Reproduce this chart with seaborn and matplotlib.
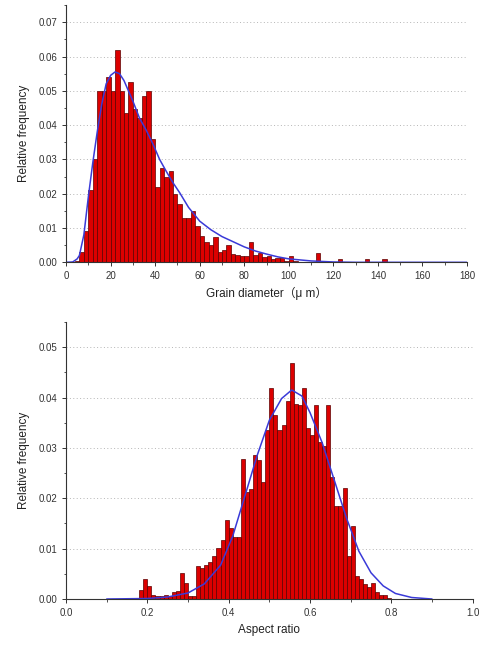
import numpy as np
import matplotlib
matplotlib.use("Agg")
import matplotlib.pyplot as plt
from matplotlib.ticker import MultipleLocator
import seaborn as sns

# grain diameter histogram, 2 um bins (bin start -> relative frequency)
diam_bins = [4, 6, 8, 10, 12, 14, 16, 18, 20, 22, 24, 26, 28, 30, 32, 34, 36, 38,
             40, 42, 44, 46, 48, 50, 52, 54, 56, 58, 60, 62, 64, 66, 68, 70, 72,
             74, 76, 78, 80, 82, 84, 86, 88, 90, 92, 94, 96, 98, 100, 102, 112,
             122, 134, 142]
diam_freq = [0.0003, 0.003, 0.009, 0.021, 0.030, 0.050, 0.050, 0.054, 0.050,
             0.062, 0.050, 0.0435, 0.0526, 0.0448, 0.042, 0.0486, 0.050, 0.036,
             0.022, 0.0275, 0.025, 0.0266, 0.020, 0.017, 0.013, 0.013, 0.015,
             0.0105, 0.0078, 0.006, 0.005, 0.0075, 0.003, 0.0035, 0.005, 0.0025,
             0.002, 0.0017, 0.0017, 0.006, 0.002, 0.0027, 0.0015, 0.0017, 0.001,
             0.0012, 0.0013, 0.0003, 0.0017, 0.0005, 0.0028, 0.001, 0.001, 0.001]
# fitted curve
diam_curve_x = [0, 3, 5, 6, 8, 10, 12, 14, 16, 18, 20, 22, 24, 26, 28, 30, 33, 36,
                39, 42, 45, 48, 51, 55, 60, 65, 70, 75, 80, 85, 90, 95, 100, 110,
                120, 130, 180]
diam_curve_y = [0, 0.0001, 0.001, 0.002, 0.008, 0.019, 0.029, 0.038, 0.046,
                0.052, 0.0545, 0.0555, 0.055, 0.053, 0.050, 0.047, 0.042, 0.0385,
                0.0345, 0.030, 0.0265, 0.0232, 0.0203, 0.016, 0.012, 0.0095,
                0.0075, 0.006, 0.0045, 0.0033, 0.0024, 0.0016, 0.001, 0.0004,
                0.0001, 0, 0]

# aspect ratio histogram, 0.01 bins
ar_bins = [0.18, 0.19, 0.20, 0.21, 0.22, 0.23, 0.24, 0.25, 0.26, 0.27, 0.28, 0.29,
           0.30, 0.31, 0.32, 0.33, 0.34, 0.35, 0.36, 0.37, 0.38, 0.39, 0.40, 0.41,
           0.42, 0.43, 0.44, 0.45, 0.46, 0.47, 0.48, 0.49, 0.50, 0.51, 0.52, 0.53,
           0.54, 0.55, 0.56, 0.57, 0.58, 0.59, 0.60, 0.61, 0.62, 0.63, 0.64, 0.65,
           0.66, 0.67, 0.68, 0.69, 0.70, 0.71, 0.72, 0.73, 0.74, 0.75, 0.76, 0.77,
           0.78, 0.79]
ar_freq = [0.0018, 0.004, 0.0026, 0.0007, 0.0005, 0.0005, 0.0007, 0.0005, 0.0013,
           0.0015, 0.0052, 0.0031, 0.0005, 0.0005, 0.0065, 0.0061, 0.0068, 0.0074,
           0.0085, 0.0101, 0.0117, 0.0157, 0.014, 0.0124, 0.0124, 0.0277, 0.0212,
           0.0219, 0.0286, 0.0276, 0.0233, 0.0335, 0.0418, 0.0365, 0.0335, 0.0345,
           0.0393, 0.0468, 0.0388, 0.0385, 0.0418, 0.0339, 0.0325, 0.0385, 0.0312,
           0.0303, 0.0385, 0.0243, 0.0184, 0.0184, 0.0220, 0.0086, 0.0145, 0.0046,
           0.0039, 0.0029, 0.0024, 0.0031, 0.0013, 0.0007, 0.0007, 0.0003]
ar_curve_x = [0.10, 0.20, 0.25, 0.30, 0.34, 0.38, 0.41, 0.44, 0.47, 0.50, 0.53,
              0.555, 0.58, 0.60, 0.63, 0.66, 0.69, 0.72, 0.75, 0.78, 0.81, 0.85, 0.90]
ar_curve_y = [0.0, 0.0001, 0.0004, 0.0012, 0.003, 0.0067, 0.0125, 0.0205, 0.0285,
              0.0355, 0.0398, 0.0415, 0.0403, 0.037, 0.031, 0.0235, 0.016, 0.0095,
              0.0052, 0.0026, 0.0011, 0.0003, 0.0]

sns.set_style("ticks")
plt.rcParams['font.family'] = ['Liberation Sans', 'Noto Sans CJK JP', 'DejaVu Sans']

BAR = "#dc0000"
EDGE = "#5a0000"
LINE = "#3a3ad8"

fig = plt.figure(figsize=(4.82, 6.48), dpi=100)
ax1 = fig.add_axes([0.137, 0.5952, 0.832, 0.397])
ax2 = fig.add_axes([0.137, 0.0756, 0.8437, 0.4275])


def style(ax):
    sns.despine(ax=ax)
    ax.grid(axis="y", which="major", linestyle=(0, (1, 2.5)), color="#b5b5b5", lw=0.7)
    ax.set_axisbelow(True)
    ax.tick_params(which="major", labelsize=7, length=3, width=0.7, colors="#333333")
    ax.tick_params(which="minor", length=1.8, width=0.6, colors="#333333")
    for s in ("left", "bottom"):
        ax.spines[s].set_color("#333333")
        ax.spines[s].set_linewidth(0.8)


# top panel
sns.histplot(x=np.array(diam_bins) + 1, weights=diam_freq, binwidth=2,
             binrange=(0, 180), stat="count", color=BAR, alpha=1,
             edgecolor=EDGE, linewidth=0.5, ax=ax1)
sns.lineplot(x=diam_curve_x, y=diam_curve_y, color=LINE, lw=1.1, ax=ax1)
ax1.set_xlim(0, 180)
ax1.set_ylim(0, 0.075)
ax1.xaxis.set_major_locator(MultipleLocator(20))
ax1.xaxis.set_minor_locator(MultipleLocator(10))
ax1.yaxis.set_major_locator(MultipleLocator(0.01))
ax1.yaxis.set_minor_locator(MultipleLocator(0.005))
ax1.yaxis.set_major_formatter(lambda v, p: f"{v:.2f}")
style(ax1)
ax1.set_xlabel("Grain diameter（μ m）", fontsize=8.5, labelpad=4, color="#222222")
ax1.set_ylabel("Relative frequency", fontsize=8.5, labelpad=6, color="#222222")

# bottom panel
sns.histplot(x=np.array(ar_bins) + 0.005, weights=ar_freq, binwidth=0.01,
             binrange=(0.0, 1.0), stat="count", color=BAR, alpha=1,
             edgecolor=EDGE, linewidth=0.5, ax=ax2)
sns.lineplot(x=ar_curve_x, y=ar_curve_y, color=LINE, lw=1.1, ax=ax2)
ax2.set_xlim(0, 1.0)
ax2.set_ylim(0, 0.055)
ax2.xaxis.set_major_locator(MultipleLocator(0.2))
ax2.xaxis.set_minor_locator(MultipleLocator(0.1))
ax2.xaxis.set_major_formatter(lambda v, p: f"{v:.1f}")
ax2.yaxis.set_major_locator(MultipleLocator(0.01))
ax2.yaxis.set_minor_locator(MultipleLocator(0.005))
ax2.yaxis.set_major_formatter(lambda v, p: f"{v:.2f}")
style(ax2)
ax2.set_xlabel("Aspect ratio", fontsize=8.5, labelpad=4, color="#222222")
ax2.set_ylabel("Relative frequency", fontsize=8.5, labelpad=6, color="#222222")

fig.savefig("out.png", dpi=100)
